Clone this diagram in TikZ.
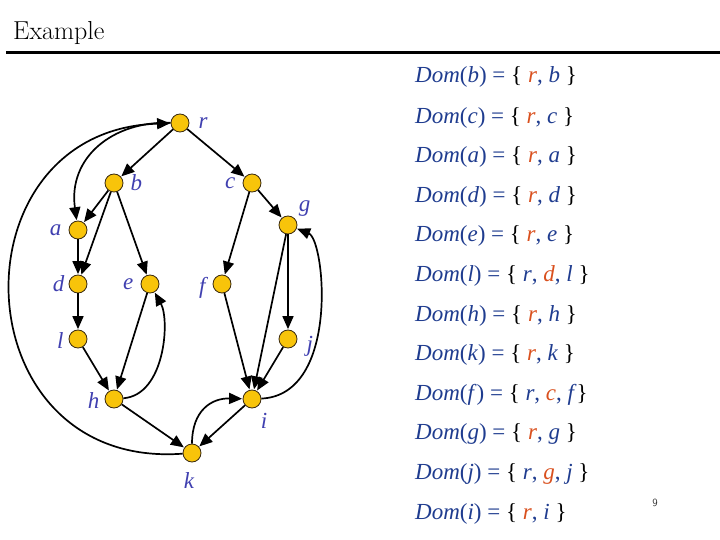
\documentclass[tikz,border=0pt]{standalone}
\usepackage{fontspec}
\setmainfont{Liberation Serif}
\newfontfamily\titlefont{Latin Modern Roman}
\usetikzlibrary{arrows.meta}
\definecolor{nodefill}{HTML}{F8C40A}
\definecolor{nodeedge}{HTML}{3A2A10}
\definecolor{lblblue}{HTML}{4040B0}
\definecolor{domblue}{HTML}{1F3C8F}
\definecolor{domred}{HTML}{D9501E}
\newcommand{\Rd}[1]{\textcolor{domred}{#1}}
\newcommand{\Bk}[1]{\textcolor{black}{#1}}
\tikzset{
  vtx/.style={circle, fill=nodefill, draw=nodeedge, line width=0.8pt, minimum size=18pt, inner sep=0pt},
  lbl/.style={text=lblblue, font=\fontsize{23}{25}\selectfont\itshape, inner sep=0pt},
  edge/.style={line width=1.7pt, -{Triangle[length=13pt,width=11pt]}, shorten >=0.5pt},
  dom/.style={anchor=west, inner sep=0pt, text=domblue, font=\fontsize{23}{26}\selectfont},
}
\begin{document}
\begin{tikzpicture}[x=1pt,y=-1pt]
\useasboundingbox (0,0) rectangle (720,540);
% title
\node[anchor=base west, inner sep=0pt, font=\titlefont\fontsize{26}{30}\selectfont] (title) at (13,40) {Example};
\coordinate (ruleL) at (6,53);
\coordinate (ruleR) at (720,53);
\draw[line width=3pt] (ruleL) -- (ruleR);
% vertices
\node[vtx, label={[lbl,xshift=9pt]east:\textit{r}}] (r) at (180,123) {};
\node[vtx, label={[lbl,xshift=7pt]east:\textit{b}}] (b) at (114,183) {};
\node[vtx, label={[lbl,xshift=-7pt]west:\textit{c}}] (c) at (252,183) {};
\node[vtx, label={[lbl,xshift=4pt,yshift=2pt]north east:\textit{g}}] (g) at (288,225) {};
\node[vtx, label={[lbl,xshift=-7pt]west:\textit{a}}] (a) at (78,230) {};
\node[vtx, label={[lbl,xshift=-4pt]west:\textit{d}}] (d) at (78,284) {};
\node[vtx, label={[lbl,xshift=-7pt]west:\textit{e}}] (e) at (150,284) {};
\node[vtx, label={[lbl,xshift=-7pt,yshift=-4pt]west:\textit{f}}] (f) at (222,284) {};
\node[vtx, label={[lbl,xshift=-5pt,yshift=-2pt]west:\textit{l}}] (l) at (78,339) {};
\node[vtx, label={[lbl,xshift=9pt,yshift=-7pt]east:\textit{j}}] (j) at (288,339) {};
\node[vtx, label={[lbl,xshift=-5pt,yshift=-2pt]west:\textit{h}}] (h) at (114,399) {};
\node[vtx, label={[lbl,xshift=2pt,yshift=-7pt]south east:\textit{i}}] (i) at (252,399) {};
\node[vtx, label={[lbl,xshift=-3pt,yshift=-10pt]south:\textit{k}}] (k) at (192,453) {};
% straight edges
\draw[edge] (r) -- (b);
\draw[edge] (r) -- (c);
\draw[edge] (b) -- (a);
\draw[edge] (b) -- (d);
\draw[edge] (b) -- (e);
\draw[edge] (a) -- (d);
\draw[edge] (c) -- (f);
\draw[edge] (c) -- (g);
\draw[edge] (d) -- (l);
\draw[edge] (l) -- (h);
\draw[edge] (e) -- (h);
\draw[edge] (f) -- (i);
\draw[edge] (g) -- (i);
\draw[edge] (g) -- (j);
\draw[edge] (j) -- (i);
\draw[edge] (h) -- (k);
\draw[edge] (i) -- (k);
% curved edges
\draw[edge] (r) .. controls (112,121) and (68,158) .. (a);
\draw[edge] (k) .. controls (-40,470) and (-50,130) .. (r);
\draw[edge] (h) .. controls (165,395) and (170,320) .. (e);
\draw[edge] (k) .. controls (192,410) and (212,398) .. (i);
\draw[edge] (i) .. controls (340,395) and (325,240) .. (g);
% dominator sets
\node[dom] (d1) at (415,77) {\textit{Dom}(\textit{b}) = \Bk{\{} \Rd{\textit{r}}, \textit{b} \Bk{\}}};
\node[dom] (d2) at (415,118) {\textit{Dom}(\textit{c}) = \Bk{\{} \Rd{\textit{r}}, \textit{c} \Bk{\}}};
\node[dom] (d3) at (415,157) {\textit{Dom}(\textit{a}) = \Bk{\{} \Rd{\textit{r}}, \textit{a} \Bk{\}}};
\node[dom] (d4) at (415,197) {\textit{Dom}(\textit{d}) = \Bk{\{} \Rd{\textit{r}}, \textit{d} \Bk{\}}};
\node[dom] (d5) at (415,236) {\textit{Dom}(\textit{e}) = \Bk{\{} \Rd{\textit{r}}, \textit{e} \Bk{\}}};
\node[dom] (d6) at (415,276) {\textit{Dom}(\textit{l}) = \Bk{\{} \textit{r}, \Rd{\textit{d}}, \textit{l} \Bk{\}}};
\node[dom] (d7) at (415,316) {\textit{Dom}(\textit{h}) = \Bk{\{} \Rd{\textit{r}}, \textit{h} \Bk{\}}};
\node[dom] (d8) at (415,355) {\textit{Dom}(\textit{k}) = \Bk{\{} \Rd{\textit{r}}, \textit{k} \Bk{\}}};
\node[dom] (d9) at (415,395) {\textit{Dom}(\textit{f}) = \Bk{\{} \textit{r}, \Rd{\textit{c}}, \textit{f}\Bk{\}}};
\node[dom] (d10) at (415,434) {\textit{Dom}(\textit{g}) = \Bk{\{} \Rd{\textit{r}}, \textit{g} \Bk{\}}};
\node[dom] (d11) at (415,474) {\textit{Dom}(\textit{j}) = \Bk{\{} \textit{r}, \Rd{\textit{g}}, \textit{j} \Bk{\}}};
\node[dom] (d12) at (415,514) {\textit{Dom}(\textit{i}) = \Bk{\{} \Rd{\textit{r}}, \textit{i} \Bk{\}}};
% page number
\node[inner sep=0pt, font=\fontsize{11}{12}\selectfont\sffamily, text=black!80] (pg) at (655,503) {9};
\end{tikzpicture}
\end{document}
